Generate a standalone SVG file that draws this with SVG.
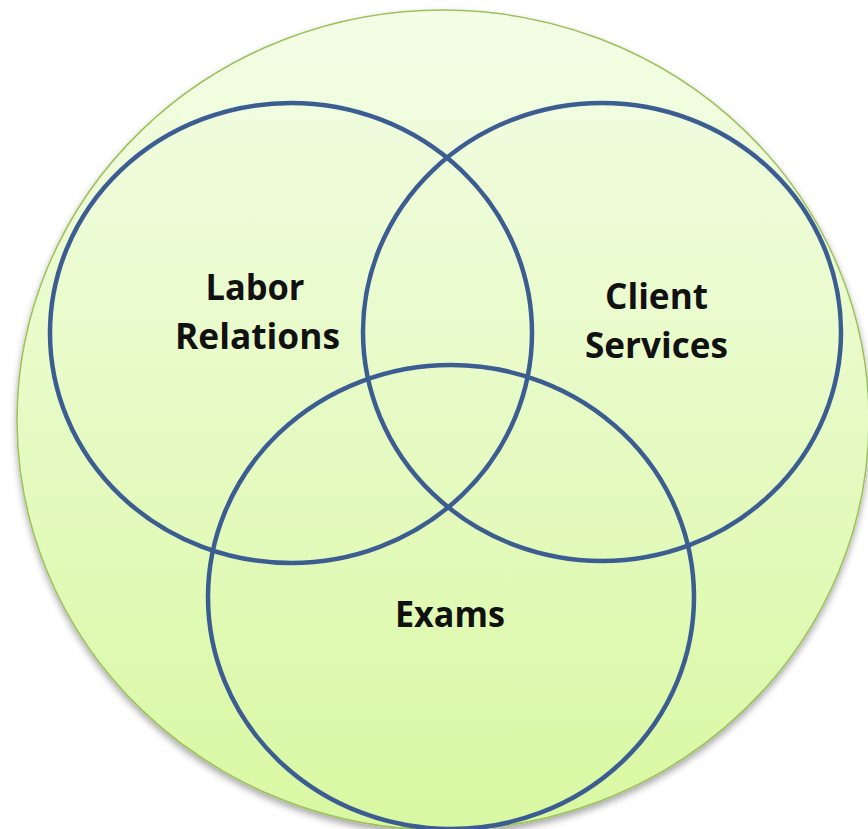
<svg xmlns="http://www.w3.org/2000/svg" width="868" height="829" viewBox="0 0 868 829">
  <defs>
    <linearGradient id="bg" x1="0" y1="0" x2="0" y2="1">
      <stop offset="0" stop-color="#f3fde6"/>
      <stop offset="1" stop-color="#d9f8a2"/>
    </linearGradient>
    <filter id="sh" x="-10%" y="-10%" width="120%" height="120%">
      <feDropShadow dx="0" dy="4" stdDeviation="3.5" flood-color="#000" flood-opacity="0.35"/>
    </filter>
  </defs>
  <style>
    .set { fill: none; stroke: #3b5d91; stroke-width: 4.5; }
    .lbl { font-family: "Open Sans", "Liberation Sans", sans-serif; font-weight: bold; font-size: 35px; fill: #111; text-anchor: middle; }
  </style>
  <rect width="868" height="829" fill="#ffffff"/>
  <g id="universe">
    <ellipse cx="443" cy="420" rx="426" ry="410" fill="url(#bg)" stroke="#9cc05a" stroke-width="1.5" filter="url(#sh)"/>
  </g>
  <g id="connectors"></g>
  <g id="labor-relations">
    <ellipse class="set" cx="291" cy="333" rx="241" ry="230"/>
    <text class="lbl" x="255" y="300" textLength="99" lengthAdjust="spacingAndGlyphs">Labor</text>
    <text class="lbl" x="257.5" y="349" textLength="165" lengthAdjust="spacingAndGlyphs">Relations</text>
  </g>
  <g id="client-services">
    <ellipse class="set" cx="602" cy="332" rx="239" ry="229"/>
    <text class="lbl" x="656.5" y="309" textLength="103" lengthAdjust="spacingAndGlyphs">Client</text>
    <text class="lbl" x="656.5" y="358" textLength="143" lengthAdjust="spacingAndGlyphs">Services</text>
  </g>
  <g id="exams">
    <ellipse class="set" cx="451" cy="597" rx="243" ry="232"/>
    <text class="lbl" x="450" y="627" textLength="110" lengthAdjust="spacingAndGlyphs">Exams</text>
  </g>
</svg>
